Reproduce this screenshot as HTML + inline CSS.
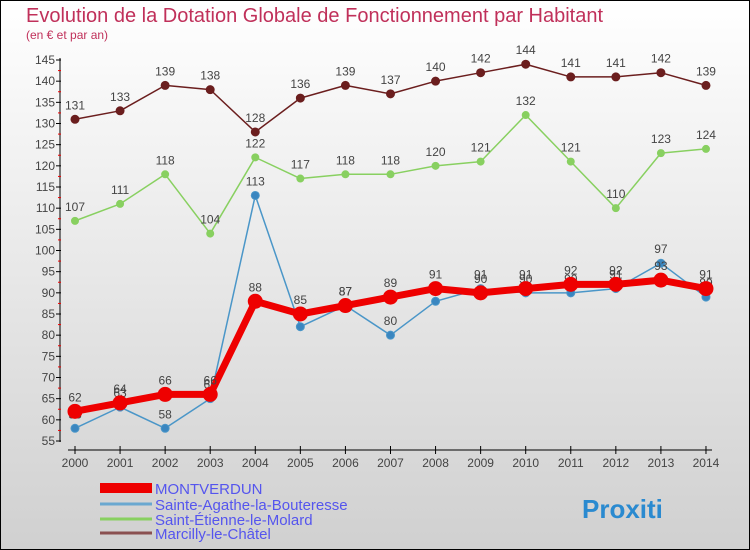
<!DOCTYPE html>
<html><head><meta charset="utf-8"><style>
body{margin:0}
#c{width:750px;height:550px;position:relative;overflow:hidden;font-family:"Liberation Sans",sans-serif}
</style></head><body>
<div id="c">
<svg id="s" width="750" height="550" xmlns="http://www.w3.org/2000/svg">
<defs><linearGradient id="bg" x1="0" y1="0" x2="0" y2="1"><stop offset="0" stop-color="#ffffff"/><stop offset="1" stop-color="#d0d0d0"/></linearGradient></defs>
<rect x="0.5" y="0.5" width="749" height="549" fill="url(#bg)" stroke="#000"/>
<text x="26" y="22" font-size="20" fill="#c0305a">Evolution de la Dotation Globale de Fonctionnement par Habitant</text>
<text x="26" y="39" font-size="12" fill="#c0305a">(en € et par an)</text>
<g id="axes"></g><g id="series"></g><g id="legend"></g>
</svg></div>
<script>
const years=[2000,2001,2002,2003,2004,2005,2006,2007,2008,2009,2010,2011,2012,2013,2014];
const yTicks=[55,60,65,70,75,80,85,90,95,100,105,110,115,120,125,130,135,140,145];
const marcilly=[131,133,139,138,128,136,139,137,140,142,144,141,141,142,139];
const etienne=[107,111,118,104,122,117,118,118,120,121,132,121,110,123,124];
const agathe=[58,63,58,65,113,82,87,80,88,91,90,90,91,97,89];
const montverdun=[62,64,66,66,88,85,87,89,91,90,91,92,92,93,91];
const names=["MONTVERDUN","Sainte-Agathe-la-Bouteresse","Saint-Étienne-le-Molard","Marcilly-le-Châtel"];
const NS="http://www.w3.org/2000/svg";
const X=i=>75+i*45.07, Y=v=>441-(v-55)*381/90;
function mk(t,a,p){const e=document.createElementNS(NS,t);for(const k in a)e.setAttribute(k,a[k]);p.appendChild(e);return e;}
const ax=document.getElementById('axes');
let l=mk('line',{x1:60,y1:58,x2:60,y2:442,stroke:'#000','stroke-width':1},ax);


l=mk('line',{x1:68,y1:450,x2:712,y2:450,stroke:'#000','stroke-width':1},ax);


yTicks.forEach(v=>{
 mk('line',{x1:56,y1:Y(v),x2:61,y2:Y(v),stroke:'#000'},ax);
 if(v<145) mk('line',{x1:58,y1:Y(v+2.5),x2:61,y2:Y(v+2.5),stroke:'#e00'},ax);
 const t=mk('text',{x:55,y:Y(v)+4,'font-size':12,'text-anchor':'end',fill:'#444'},ax);t.textContent=v;
 
 
});
years.forEach((y,i)=>{
 mk('line',{x1:X(i),y1:446,x2:X(i),y2:454,stroke:'#000'},ax);
 const t=mk('text',{x:X(i),y:467,'font-size':12,'text-anchor':'middle',fill:'#444'},ax);t.textContent=y;
 
 
});
const sg=document.getElementById('series');
function series(data,color,w,r,name,dot){
 const g=mk('g',{},sg);
 
 
 mk('polyline',{points:data.map((v,i)=>X(i)+','+Y(v)).join(' '),fill:'none',stroke:color,'stroke-width':w,'stroke-linejoin':'round'},g);
 data.forEach((v,i)=>{
  const c=mk('circle',{cx:X(i),cy:Y(v),r:r,fill:dot,stroke:color,'stroke-width':1},g);
  
  
  const t=mk('text',{x:X(i),y:Y(v)-10,'font-size':12,'text-anchor':'middle',fill:'#444'},g);t.textContent=v;
 });
}
series(marcilly,'#6b1e1e',1.5,4,'series-marcilly','#6b1e1e');
series(etienne,'#88d060',1.5,3.5,'series-etienne','#88d060');
series(agathe,'#4a96c8',1.5,4,'series-agathe','#3a86c0');
series(montverdun,'#ee0000',7,7,'series-montverdun','#ee0000');
const lg=document.getElementById('legend');
const cols=['#ee0000','#6aa8d0','#88d060','#8a5050'],ws=[10,3,3,3],ys=[492,508,523,537];
names.forEach((n,i)=>{
 mk('line',{x1:100,y1:ys[i]-4,x2:152,y2:ys[i]-4,stroke:cols[i],'stroke-width':ws[i]},lg);
 const t=mk('text',{x:155,y:ys[i]+2,'font-size':15,fill:'#5555ee'},lg);t.textContent=n;
 
 
});
const p=mk('text',{x:582,y:518,'font-size':26,'font-weight':'bold',fill:'#2a8ad0'},lg);
p.textContent='Proxiti';


</script>
</body></html>
